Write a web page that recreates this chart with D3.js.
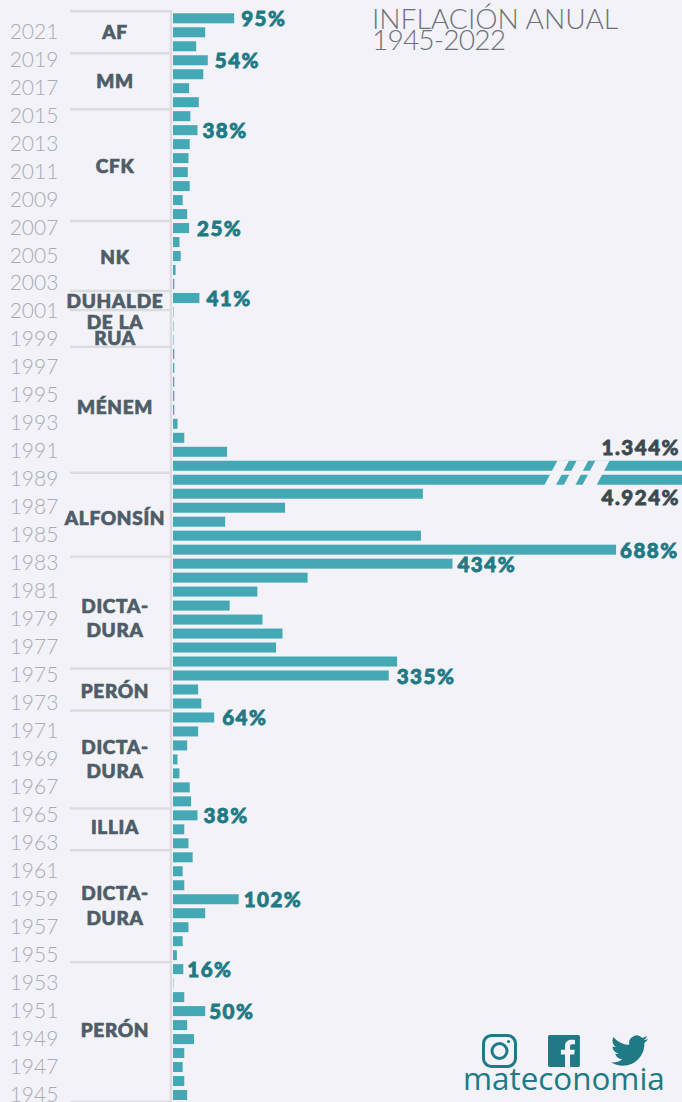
<!DOCTYPE html>
<html lang="es"><head><meta charset="utf-8">
<script src="https://cdn.jsdelivr.net/npm/d3@7/dist/d3.min.js"></script>
<style>html,body{margin:0;padding:0;background:#f2f2f8;overflow:hidden}svg{display:block}</style>
</head><body><svg id="c" width="682" height="1102"></svg>
<script>
const years = d3.range(2022, 1944, -1);
const inflation = [95,50,36,54,47,25,40,27,38,26,24,23,26,15,22,25,10,12,4,2,
  41,0.7,0.7,0.7,2,2,2,2,2,7,17.5,84,1344,4924,388,174,81,385,688,434,
  209,131,88,139,170,160,348,335,39,44,64,39,22,7,10,26,28,38,17.5,24,30.5,15,17.5,102,
  50,24,15,6,16,0.5,17.5,50,22,32.6,17.5,15,17.5,22];
const tickYears = d3.range(2021, 1944, -2);

const eraStarts = [2022,2019,2015,2007,2002,2000.63,1998,1989,1983,1975,1972,1965,1962,1954,1944];
const eraLabels = ["AF","MM","CFK","NK","DUHALDE","DE LA","RUA","MÉNEM","ALFONSÍN","DICTA-","DURA","PERÓN","DICTA-","DURA","ILLIA","DICTA-","DURA","PERÓN"];
const eraLabelYears = [2020.98,2017.48,2011.4,2004.9,2001.75,2000.25,1999.1,1994.15,1986.2,1979.95,1978.2,1973.85,1969.85,1968.15,1964.1,1959.4,1957.6,1949.6];

const labelYears = [2022,2019,2014,2007,2002,1984,1983,1975,1972,1965,1959,1954,1951];
const labelTexts = ["95%","54%","38%","25%","41%","688%","434%","335%","64%","38%","102%","16%","50%"];
const labelGaps = [7,7,5,8,7,4,5,8,8,6,5,4,4];
const brokenYears = [1990,1989];
const brokenTexts = ["1.344%","4.924%"];
const breakBands = [[597,615],[627,645],[656,678]];

const W=682,H=1102,x0=173;
const x=d3.scaleLinear().domain([0,1]).range([x0,x0+0.644]);
const y=d3.scaleLinear().domain([2022,1945]).range([18.3,1095]);
const barH=10;
const BG="#f2f2f8",BAR="#45a9b5",TEAL="#207a85",ERA="#4e5d67",DARK="#3c4a4d",TICK="#aaaab0",LINE="#dcdcdf";
const svg=d3.select("#c");
svg.append("rect").attr("width",W).attr("height",H).attr("fill",BG);

svg.append("g").selectAll("line").data(eraStarts).join("line")
  .attr("x1",70).attr("x2",172).attr("y1",d=>y(d)-7).attr("y2",d=>y(d)-7)
  .attr("stroke",LINE).attr("stroke-width",2.4);
svg.append("line").attr("x1",171).attr("x2",171).attr("y1",y(2022)-8).attr("y2",H)
  .attr("stroke",LINE).attr("stroke-width",2.4);

svg.append("g").selectAll("rect").data(years).join("rect")
  .attr("x",x0).attr("y",d=>y(d)-barH/2).attr("height",barH)
  .attr("width",(d,i)=>x(inflation[i])-x0)
  .attr("fill",BAR);

const yTop=y(brokenYears[0])-barH/2-0.2, yBot=y(brokenYears[1])+barH/2+0.2;
svg.append("g").selectAll("polygon").data(breakBands).join("polygon")
  .attr("points",d=>[[x(d[0]),yTop],[x(d[1]),yTop],[x(d[1])-13,yBot],[x(d[0])-13,yBot]].join(" "))
  .attr("fill",BG);

svg.append("g").selectAll("text").data(tickYears).join("text")
  .attr("x",34).attr("y",d=>y(d)+6.5).attr("text-anchor","middle")
  .attr("font-family","Lato").attr("font-weight",300).attr("font-size",21)
  .attr("fill",TICK).text(d=>d);

svg.append("g").selectAll("text").data(eraLabels).join("text")
  .attr("x",115).attr("y",(d,i)=>y(eraLabelYears[i])+6.5).attr("text-anchor","middle")
  .attr("font-family","Lato").attr("font-weight",900).attr("font-size",19)
  .attr("letter-spacing",0.7).attr("stroke",ERA).attr("stroke-width",0.7)
  .attr("fill",ERA).text(d=>d);

svg.append("g").selectAll("text").data(labelYears).join("text")
  .attr("x",(d,i)=>x(inflation[years.indexOf(d)])+labelGaps[i])
  .attr("y",d=>y(d)+8).attr("font-family","Lato").attr("font-weight",900).attr("font-size",20.5)
  .attr("letter-spacing",1.5).attr("stroke",TEAL).attr("stroke-width",0.8)
  .attr("fill",TEAL).text((d,i)=>labelTexts[i]);
svg.append("g").selectAll("text").data(brokenYears).join("text")
  .attr("x",680).attr("y",(d,i)=>y(d)+(i?25:-10.5)).attr("text-anchor","end")
  .attr("font-family","Lato").attr("font-weight",900).attr("font-size",20.5)
  .attr("letter-spacing",1.5).attr("stroke",DARK).attr("stroke-width",0.8)
  .attr("fill",DARK).text((d,i)=>brokenTexts[i]);

const title=svg.append("g").attr("font-family","Lato").attr("font-weight",300).attr("font-size",28.2).attr("fill","#6e7278");
title.append("text").attr("x",372).attr("y",29).text("INFLACIÓN ANUAL");
title.append("text").attr("x",372).attr("y",50).attr("letter-spacing",-0.9).text("1945-2022");

const ig=svg.append("g").attr("fill","none").attr("stroke",TEAL);
ig.append("rect").attr("x",483.5).attr("y",1035.5).attr("width",32).attr("height",31).attr("rx",8).attr("stroke-width",3);
ig.append("circle").attr("cx",499.5).attr("cy",1051).attr("r",7.5).attr("stroke-width",3);
ig.append("circle").attr("cx",508.5).attr("cy",1041.5).attr("r",1.6).attr("fill",TEAL).attr("stroke","none");
svg.append("path").attr("transform","translate(548,1035) scale(1.33)").attr("fill",TEAL)
  .attr("d","M22.675 0H1.325C.593 0 0 .593 0 1.325v21.351C0 23.407.593 24 1.325 24H12.82v-9.294H9.692v-3.622h3.128V8.413c0-3.1 1.893-4.788 4.659-4.788 1.325 0 2.463.099 2.795.143v3.24l-1.918.001c-1.504 0-1.795.715-1.795 1.763v2.313h3.587l-.467 3.622h-3.12V24h6.116c.73 0 1.323-.593 1.323-1.325V1.325C24 .593 23.407 0 22.675 0z");
svg.append("path").attr("transform","translate(611,1032) scale(1.55)").attr("fill",TEAL)
  .attr("d","M23.953 4.57a10 10 0 01-2.825.775 4.958 4.958 0 002.163-2.723c-.951.555-2.005.959-3.127 1.184a4.92 4.92 0 00-8.384 4.482C7.69 8.095 4.067 6.13 1.64 3.162a4.822 4.822 0 00-.666 2.475c0 1.71.87 3.213 2.188 4.096a4.904 4.904 0 01-2.228-.616v.06a4.923 4.923 0 003.946 4.827 4.996 4.996 0 01-2.212.085 4.936 4.936 0 004.604 3.417 9.867 9.867 0 01-6.102 2.105c-.39 0-.779-.023-1.17-.067a13.995 13.995 0 007.557 2.209c9.053 0 13.998-7.496 13.998-13.985 0-.21 0-.42-.015-.63A9.935 9.935 0 0024 4.59z");
svg.append("text").attr("x",463).attr("y",1090).attr("font-family","'Open Sans'").attr("font-size",31.4)
  .attr("fill",TEAL).text("mateconomia");
</script></body></html>
